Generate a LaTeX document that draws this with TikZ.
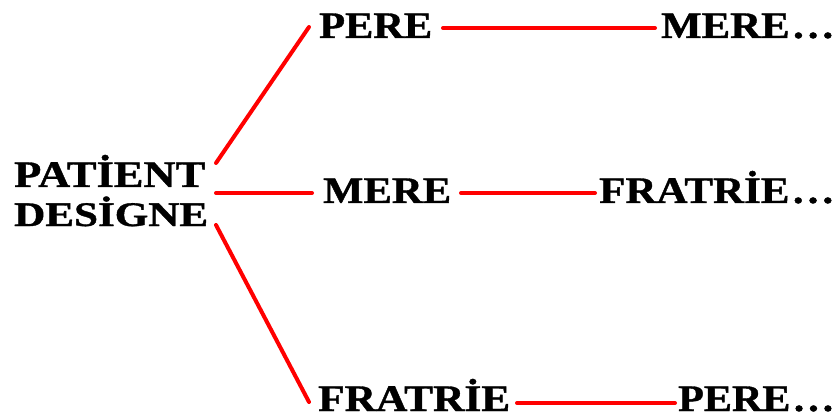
\documentclass[tikz,border=0pt]{standalone}
\usepackage{fontspec}
\setmainfont{Liberation Serif}[BoldFeatures={FakeBold=1}]
\usepackage{graphicx}
\newcommand\tdots{\kern3pt.\kern3.5pt.\kern3.5pt.}
\newcommand\fitw[2]{\resizebox{#1pt}{\height}{#2}}
\begin{document}
\begin{tikzpicture}[x=1pt,y=-1pt,
  lbl/.style={inner sep=0pt, anchor=base west, font=\fontsize{37.5}{37.5}\selectfont\bfseries},
  redline/.style={draw=red, line width=4pt, line cap=round}]
\useasboundingbox (0,0) rectangle (837,414);
% labels
\node[lbl] (pat)   at (14,187)  {\fitw{191}{PATİENT}};
\node[lbl] (des)   at (14,226)  {\resizebox{194pt}{0.92\height}{DESİGNE}};
\node[lbl] (pere)  at (319,38)  {\fitw{113}{PERE}};
\node[lbl] (mere1) at (661,38)  {\fitw{172}{MERE\tdots}};
\node[lbl] (mere)  at (323,203) {\fitw{128}{MERE}};
\node[lbl] (fra1)  at (599,203) {\fitw{234}{FRATRİE\tdots}};
\node[lbl] (fra)   at (318,411) {\fitw{192}{FRATRİE}};
\node[lbl] (pere1) at (678,411) {\fitw{155}{PERE\tdots}};
% connector end points
\coordinate (p1) at (216,163);
\coordinate (q1) at (309,27);
\coordinate (p2) at (216,193);
\coordinate (q2) at (312,193);
\coordinate (p3) at (216,225);
\coordinate (q3) at (309,402);
\coordinate (r1) at (443,28);
\coordinate (s1) at (655,28);
\coordinate (r2) at (461,193);
\coordinate (s2) at (595,193);
\coordinate (r3) at (517,403);
\coordinate (s3) at (675,403);
% connectors
\draw[redline] (p1) -- (q1);
\draw[redline] (p2) -- (q2);
\draw[redline] (p3) -- (q3);
\draw[redline] (r1) -- (s1);
\draw[redline] (r2) -- (s2);
\draw[redline] (r3) -- (s3);
\end{tikzpicture}
\end{document}
